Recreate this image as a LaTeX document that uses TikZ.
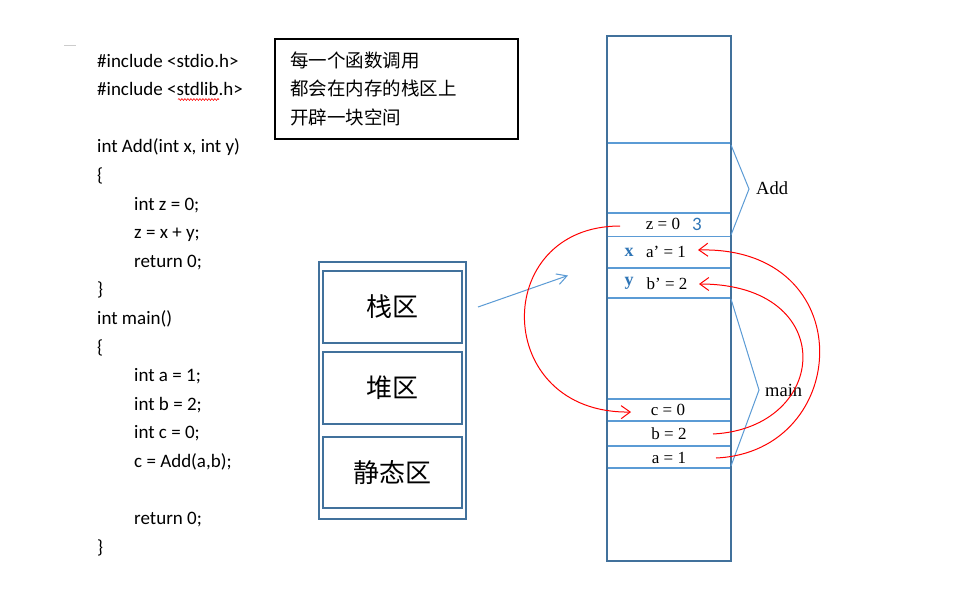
\documentclass[tikz,border=0pt]{standalone}
\usepackage{fontspec}
\setmainfont{Liberation Serif}
\newfontfamily\codefont{Carlito}
\newfontfamily\cjk{Noto Sans CJK SC}
\usetikzlibrary{arrows.meta,decorations.pathmorphing}
\definecolor{frameblue}{HTML}{41719C}
\definecolor{lineblue}{HTML}{5B9BD5}
\definecolor{labelblue}{HTML}{2E75B6}
\begin{document}
\begin{tikzpicture}[x=1pt,y=-1pt,
  code/.style={anchor=base west, inner sep=0pt, font=\codefont\fontsize{19}{21}\selectfont},
  note/.style={anchor=west, inner sep=0pt, font=\cjk\fontsize{18.5}{20}\selectfont},
  region/.style={draw=frameblue, line width=2.3pt, minimum width=139pt, font=\cjk\fontsize{26}{28}\selectfont},
  cell/.style={inner sep=0pt, font=\fontsize{17}{19}\selectfont},
  reg/.style={inner sep=0pt, text=labelblue, font=\bfseries\fontsize{18}{20}\selectfont},
  part/.style={inner sep=0pt, font=\fontsize{18.5}{20}\selectfont},
  divider/.style={draw=lineblue, line width=1.4pt},
  brace/.style={draw=lineblue, line width=1pt},
  flow/.style={draw=red, line width=1pt, -{Straight Barb[length=9pt,width=13pt]}},
  pointer/.style={draw=lineblue, line width=1pt, -{Straight Barb[length=10pt,width=11pt]}}
]
\useasboundingbox (0,0) rectangle (973,600);
\fill[white] (0,0) rectangle (973,600);

% small grey mark
\draw[gray!40, line width=0.8pt] (64,45) coordinate (m1) -- (76,45) coordinate (m2);

% code
\node[code] (c0) at (97,67) {\#include <stdio.h>};
\node[code] (c1) at (97,95.6) {\#include <stdlib.h>};
\node[code] (c3) at (97,152.8) {int Add(int x, int y)};
\node[code] (c4) at (97,181.4) {\{};
\node[code] (c5) at (134,210) {int z = 0;};
\node[code] (c6) at (134,238.6) {z = x + y;};
\node[code] (c7) at (134,267.2) {return 0;};
\node[code] (c8) at (97,295.8) {\}};
\node[code] (c9) at (97,324.4) {int main()};
\node[code] (c10) at (97,353) {\{};
\node[code] (c11) at (134,381.6) {int a = 1;};
\node[code] (c12) at (134,410.2) {int b = 2;};
\node[code] (c13) at (134,438.8) {int c = 0;};
\node[code] (c14) at (134,467.4) {c = Add(a,b);};
\node[code] (c16) at (134,524.6) {return 0;};
\node[code] (c17) at (97,553.2) {\}};
\draw[red, line width=0.6pt, decorate, decoration={snake, amplitude=0.9pt, segment length=3pt}]
  (178,99.5) coordinate (s1) -- (219,99.5) coordinate (s2);

% note box
\draw[black, line width=1.2pt] (275,39) rectangle (518,139);
\node[note] (n1) at (290,60) {每一个函数调用};
\node[note] (n2) at (290,88.5) {都会在内存的栈区上};
\node[note] (n3) at (290,117) {开辟一块空间};

% memory regions
\draw[frameblue, line width=2.3pt] (319,262) rectangle (466,519);
\node[region, minimum height=72pt] (stackr) at (392.5,307) {栈区};
\node[region, minimum height=72pt] (heapr) at (392.5,388) {堆区};
\node[region, minimum height=71pt] (staticr) at (392.5,472.5) {静态区};

% stack column
\draw[frameblue, line width=2.3pt] (607,36) rectangle (731,561);
\foreach \yy in {143,213,236.5,268,298,399,421,446,468}
  \draw[divider] (608,\yy) -- (730,\yy);

\node[cell] (z) at (663,224) {z = 0};
\node[inner sep=0pt, text=labelblue, font=\codefont\fontsize{19}{20}\selectfont] (three) at (697,224) {3};
\node[reg] (xr) at (629,252) {x};
\node[cell] (ap) at (666,252) {a’ = 1};
\node[reg] (yr) at (629,283) {y};
\node[cell] (bp) at (667,284) {b’ = 2};
\node[cell] (cz) at (668,410) {c = 0};
\node[cell] (bt) at (669,434) {b = 2};
\node[cell] (at) at (669,457.5) {a = 1};

% braces
\draw[brace] (731,145) coordinate (ab1) -- (749,189) coordinate (ab2) -- (731,235) coordinate (ab3);
\node[part, anchor=west] (addl) at (756,188) {Add};
\draw[brace] (731,299) coordinate (mb1) -- (759,390) coordinate (mb2) -- (731,466) coordinate (mb3);
\node[part, anchor=west] (mainl) at (765,390) {main};

% blue pointer
\coordinate (pstart) at (478,307);
\coordinate (pend) at (568,275.5);
\draw[pointer] (pstart) -- (pend);

% red flows
\coordinate (r1s) at (620,226);
\coordinate (r1e) at (631,412);
\draw[flow] (r1s) .. controls (490,226) and (492,414) .. (r1e);
\coordinate (r2s) at (713,434);
\coordinate (r2e) at (699,284);
\draw[flow] (r2s) .. controls (830,428) and (840,284) .. (r2e);
\coordinate (r3s) at (716,458);
\coordinate (r3e) at (698,250);
\draw[flow] (r3s) .. controls (852,452) and (862,246) .. (r3e);
\end{tikzpicture}
\end{document}
